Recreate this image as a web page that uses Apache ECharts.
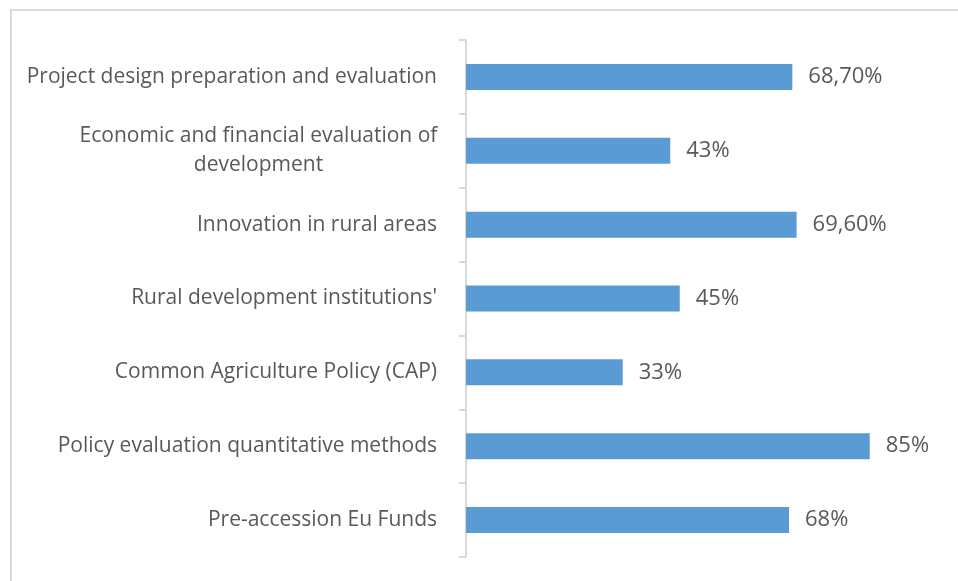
<!DOCTYPE html>
<html>
<head>
<meta charset="utf-8">
<script src="https://cdn.jsdelivr.net/npm/echarts@6/dist/echarts.min.js"></script>
<style>
  html, body { margin: 0; padding: 0; background: #fff; }
  #frame {
    position: absolute; left: 10px; top: 9px; width: 960px; height: 590px;
    border: 2px solid #d9d9d9; box-sizing: border-box;
  }
  #chart { position: absolute; left: 0; top: 0; width: 958px; height: 581px; }
</style>
</head>
<body>
<div id="frame"></div>
<div id="chart"></div>
<script>
// categories, top to bottom
const categories = [
  "Project design preparation and evaluation",
  "Economic and financial evaluation of\ndevelopment",
  "Innovation in rural areas",
  "Rural development institutions'",
  "Common Agriculture Policy (CAP)",
  "Policy evaluation quantitative methods",
  "Pre-accession Eu Funds"
];
const values = [68.7, 43, 69.6, 45, 33, 85, 68];
const valueLabels = ["68,70%", "43%", "69,60%", "45%", "33%", "85%", "68%"];

const chart = echarts.init(document.getElementById("chart"), null, { renderer: "canvas" });

const option = {
  animation: false,
  textStyle: { fontFamily: "Open Sans" },
  grid: { left: 466, right: 17, top: 40, bottom: 24, containLabel: false },
  xAxis: {
    type: "value",
    min: 0,
    max: 100,
    show: false
  },
  yAxis: {
    type: "category",
    inverse: true,
    data: categories,
    axisLine: { lineStyle: { color: "#d9d9d9", width: 2 } },
    axisTick: { show: true, length: 7, lineStyle: { color: "#d9d9d9", width: 2 } },
    axisLabel: {
      margin: 29,
      color: "#595959",
      fontSize: 21,
      fontFamily: "Open Sans",
      formatter: function (v) {
        // the long one wraps and is centred under itself
        if (v.indexOf("\n") >= 0) {
          return v.split("\n").map(function (s) { return "{c|" + s + "}"; }).join("\n");
        }
        return v;
      },
      rich: {
        c: {
          width: 357,
          align: "center",
          color: "#595959",
          fontSize: 21,
          lineHeight: 29,
          fontFamily: "Open Sans"
        }
      }
    }
  },
  series: [
    {
      type: "bar",
      data: values,
      barWidth: 26,
      itemStyle: { color: "#5b9bd5" },
      label: {
        show: true,
        position: "right",
        distance: 16,
        color: "#595959",
        fontSize: 22,
        fontFamily: "Open Sans",
        formatter: function (p) { return valueLabels[p.dataIndex]; }
      }
    }
  ]
};

chart.setOption(option);
</script>
</body>
</html>
